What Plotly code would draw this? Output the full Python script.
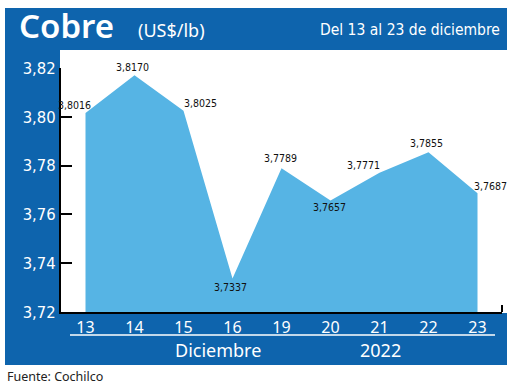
import plotly.graph_objects as go

# ---- data ----
days = ["13", "14", "15", "16", "19", "20", "21", "22", "23"]
prices = [3.8016, 3.8170, 3.8025, 3.7337, 3.7789, 3.7657, 3.7771, 3.7855, 3.7687]
y_ticks = [3.72, 3.74, 3.76, 3.78, 3.80, 3.82]

# label offsets (style only), in px: (xshift, yshift)
label_offsets = [(-11, 8), (-2, 8), (17, 8), (-2, -8), (-1, 10), (-1, -7), (-16, 8), (-2, 9), (13, 7)]

W, H = 520, 386
L, R, T, B = 61, 18, 68, 74
PW, PH = W - L - R, H - T - B

def xp(px):
    return (px - L) / PW

def yp(py):
    return (H - B - py) / PH

DARK = "#0e64ad"
LIGHT = "#56b4e4"
NARROW = "Liberation Sans Narrow, DejaVu Sans Condensed, Arial Narrow, sans-serif"
SANS = "Noto Sans, Open Sans, sans-serif"

fig = go.Figure()
fig.add_trace(go.Scatter(
    x=days, y=prices, mode="lines", fill="tozeroy",
    fillcolor=LIGHT, line=dict(width=0, color=LIGHT), hoverinfo="skip",
))

shapes = [
    dict(type="rect", xref="paper", yref="paper", x0=xp(5), x1=xp(507), y0=yp(365), y1=yp(8),
         fillcolor=DARK, line=dict(width=0), layer="below"),
    dict(type="rect", xref="paper", yref="paper", x0=xp(60), x1=xp(520), y0=yp(313), y1=yp(50),
         fillcolor="white", line=dict(width=0), layer="below"),
    dict(type="line", xref="paper", yref="paper", x0=xp(70), x1=xp(495), y0=yp(335), y1=yp(335),
         line=dict(color="white", width=1.5)),
    dict(type="line", xref="paper", yref="paper", x0=1, x1=1, y0=0, y1=yp(305),
         line=dict(color="black", width=2)),
]

annotations = []
for i, (v, (dx, dy)) in enumerate(zip(prices, label_offsets)):
    annotations.append(dict(
        x=i, y=v, xref="x", yref="y", text=f"{v:.4f}".replace(".", ","),
        showarrow=False, xshift=dx, yshift=dy,
        font=dict(family=NARROW, size=10.5, color="#111111"),
    ))

annotations += [
    dict(x=xp(17), y=yp(26), xref="paper", yref="paper", text="Cobre", showarrow=False,
         xanchor="left", yanchor="middle", font=dict(family=SANS, size=33, color="white", weight=600)),
    dict(x=xp(136), y=yp(30), xref="paper", yref="paper", text="(US$/lb)", showarrow=False,
         xanchor="left", yanchor="middle", font=dict(family=SANS, size=18, color="white")),
    dict(x=xp(502), y=yp(30), xref="paper", yref="paper", text="Del 13 al 23 de diciembre",
         showarrow=False, xanchor="right", yanchor="middle",
         font=dict(family=NARROW, size=15.5, color="white")),
    dict(x=xp(218), y=yp(350), xref="paper", yref="paper", text="Diciembre", showarrow=False,
         xanchor="center", yanchor="middle", font=dict(family=SANS, size=18, color="white")),
    dict(x=xp(380), y=yp(350), xref="paper", yref="paper", text="2022", showarrow=False,
         xanchor="center", yanchor="middle", font=dict(family=SANS, size=18, color="white")),
    dict(x=xp(5), y=yp(376), xref="paper", yref="paper", text="Fuente: Cochilco", showarrow=False,
         xanchor="left", yanchor="middle", font=dict(family=SANS, size=12.5, color="#222222")),
]

fig.update_layout(
    width=W, height=H, margin=dict(l=L, r=R, t=T, b=B, autoexpand=False),
    paper_bgcolor="white", plot_bgcolor="rgba(0,0,0,0)",
    separators=",.", showlegend=False, hovermode=False,
    shapes=shapes, annotations=annotations,
    xaxis=dict(
        type="category", categoryorder="array", categoryarray=days, range=[-0.5, 8.5],
        showline=True, linecolor="black", linewidth=2, showgrid=False, zeroline=False,
        ticks="", tickfont=dict(family=SANS, size=16, color="white"), fixedrange=True,
    ),
    yaxis=dict(
        range=[3.72, 3.82], tickvals=y_ticks, tickformat=".2f",
        showline=True, linecolor="black", linewidth=2, showgrid=False, zeroline=False,
        ticks="inside", ticklen=11, tickwidth=2, tickcolor="black",
        tickfont=dict(family=NARROW, size=16.5, color="white"), fixedrange=True,
    ),
)

fig.write_html("out.html", config={"displayModeBar": False},
               post_script="document.body.style.margin='0';document.body.style.overflow='hidden';")
